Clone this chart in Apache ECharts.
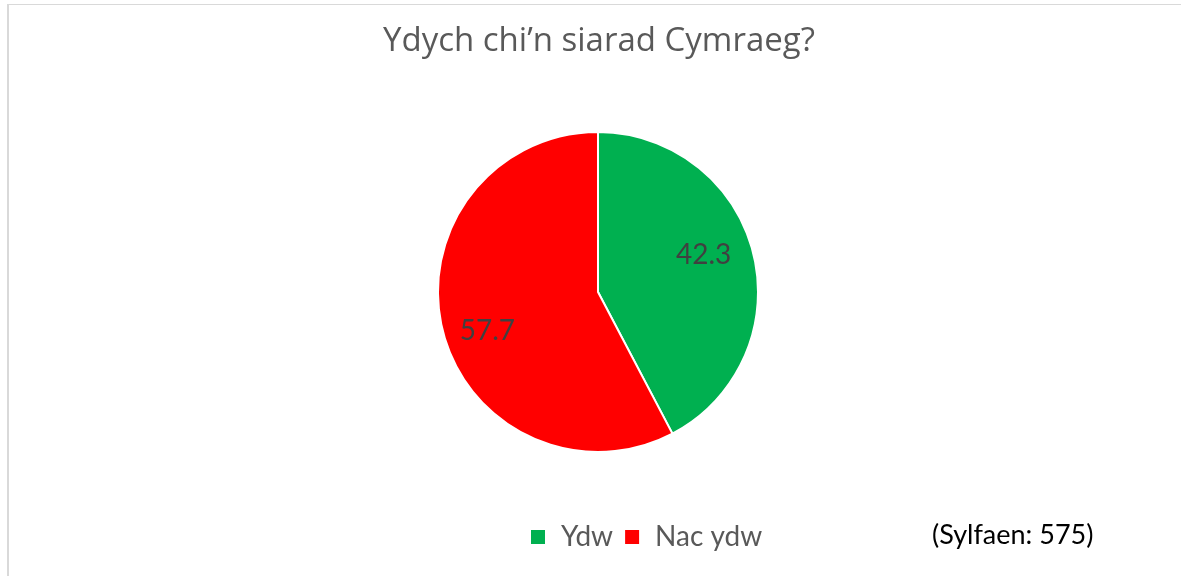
<!DOCTYPE html>
<html>
<head>
<meta charset="utf-8">
<script src="https://cdn.jsdelivr.net/npm/echarts@6/dist/echarts.min.js"></script>
<style>
html, body { margin: 0; padding: 0; background: #fff; }
#frame { position: absolute; left: 7px; top: 4px; width: 1174px; height: 572px;
  border-left: 2px solid #d9d9d9; border-top: 1px solid #d9d9d9; box-sizing: border-box; }
#chart { position: absolute; left: 0; top: 0; width: 1181px; height: 576px; }
</style>
</head>
<body>
<div id="frame"></div>
<div id="chart"></div>
<script>
// data
var categories = ['Ydw', 'Nac ydw'];
var values = [42.3, 57.7];
var colours = ['#00b050', '#ff0000'];
var baseText = '(Sylfaen: 575)';

window.onload = function(){
    welshChart();
}

function welshChart(){
    var myChart = echarts.init(document.getElementById('chart'));
    var font = 'Lato, "Open Sans", sans-serif';

    // nudge labels a little, Excel doesn't put them exactly on the mid angle
    var labelOffsets = [[-5, -10], [0, 12]];

    var pieData = categories.map(function(name, i){
        return {value: values[i], name: name};
    });
    var labelData = categories.map(function(name, i){
        return {value: values[i], name: name, label: {offset: labelOffsets[i]}};
    });

    var option = {
        color: colours,
        title: {
            text: 'Ydych chi\u2019n siarad Cymraeg?',
            left: 383,
            top: 25,
            padding: 0,
            textStyle: {fontFamily: '"Open Sans", sans-serif', fontSize: 33, fontWeight: 'normal', color: '#595959'}
        },
        legend: {
            data: categories,
            left: 529,
            top: 523,
            padding: 0,
            icon: 'rect',
            itemWidth: 16,
            itemHeight: 16,
            itemGap: 10,
            textStyle: {fontFamily: font, fontSize: 28, color: '#595959', padding: [0, 0, 0, 10]}
        },
        graphic: [{
            type: 'text',
            left: 932,
            top: 522,
            style: {text: baseText, fontFamily: font, fontSize: 27, fill: '#000'}
        }],
        series: [
            {
                name: 'Cymraeg',
                type: 'pie',
                center: [598, 292],
                radius: 160,
                startAngle: 90,
                clockwise: true,
                silent: true,
                label: {show: false},
                labelLine: {show: false},
                itemStyle: {borderColor: '#fff', borderWidth: 2},
                data: pieData
            },
            {
                // invisible ring only used to place the labels further out
                name: 'labels',
                type: 'pie',
                center: [598, 292],
                radius: 222,
                startAngle: 90,
                clockwise: true,
                silent: true,
                legendHoverLink: false,
                itemStyle: {color: 'rgba(0,0,0,0)'},
                label: {
                    show: true,
                    position: 'inside',
                    formatter: function(p){ return p.value.toFixed(1); },
                    fontFamily: font,
                    fontSize: 28,
                    color: '#404040'
                },
                labelLine: {show: false},
                data: labelData
            }
        ]
    };

    myChart.setOption(option);
}
</script>
</body>
</html>
